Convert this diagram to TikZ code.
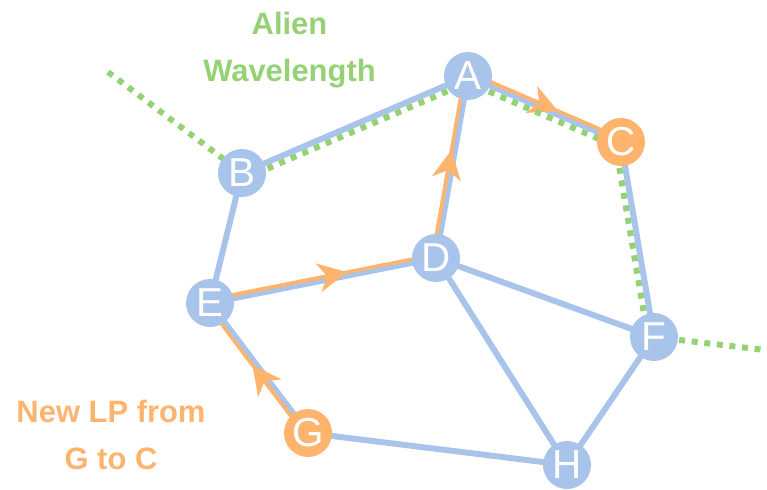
\documentclass[tikz,border=0pt]{standalone}
\usepackage{fontspec}
\setmainfont{Liberation Sans}
\usetikzlibrary{calc,arrows.meta,backgrounds}

\definecolor{linkblue}{HTML}{A9C4EB}
\definecolor{lporange}{HTML}{FFB46E}
\definecolor{aliengreen}{HTML}{95D275}

\tikzset{
  router/.style={circle, fill=linkblue, inner sep=0pt, minimum size=0.96cm,
    text=white, font=\fontsize{23}{23}\selectfont},
  lpend/.style={router, fill=lporange},
  fibre/.style={draw=linkblue, line width=3.4pt},
  alien/.style={draw=aliengreen, line width=3.4pt, dash pattern=on 3.4pt off 3.8pt},
  lightpath/.style={draw=lporange, line width=2pt},
  lptip/.style={lightpath, -{Stealth[length=0.58cm,width=0.58cm,inset=0.17cm]}},
  note/.style={align=center, font=\fontsize{17.6}{27}\selectfont\bfseries},
}

\begin{document}
\begin{tikzpicture}

\useasboundingbox (0,0) rectangle (15.34,9.78);

% routers
\node[router] (A) at (9.36,8.26) {A};
\node[router] (B) at (4.84,6.32) {B};
\node[lpend]  (C) at (12.42,6.94) {C};
\node[router] (D) at (8.72,4.62) {D};
\node[router] (E) at (4.20,3.72) {E};
\node[router] (F) at (13.08,3.04) {F};
\node[lpend]  (G) at (6.16,1.12) {G};
\node[router] (H) at (11.34,0.48) {H};

\coordinate (alienIn) at (2.16,8.34);
\coordinate (alienOut) at (15.30,2.78);

\begin{pgfonlayer}{background}
% fibre links
\draw[fibre] (A.center) -- (B.center);
\draw[fibre] (A.center) -- (C.center);
\draw[fibre] (A.center) -- (D.center);
\draw[fibre] (B.center) -- (E.center);
\draw[fibre] (E.center) -- (D.center);
\draw[fibre] (E.center) -- (G.center);
\draw[fibre] (D.center) -- (F.center);
\draw[fibre] (D.center) -- (H.center);
\draw[fibre] (C.center) -- (F.center);
\draw[fibre] (F.center) -- (H.center);
\draw[fibre] (G.center) -- (H.center);

% new lightpath G -> C
\draw[lightpath] ($(G.center)!0.07cm!90:(E.center)$) coordinate (ge1) -- ($(E.center)!0.07cm!-90:(G.center)$) coordinate (ge2);
\draw[lightpath] ($(E.center)!0.07cm!90:(D.center)$) coordinate (ed1) -- ($(D.center)!0.07cm!-90:(E.center)$) coordinate (ed2);
\draw[lightpath] ($(D.center)!0.07cm!90:(A.center)$) coordinate (da1) -- ($(A.center)!0.07cm!-90:(D.center)$) coordinate (da2);
\draw[lightpath] ($(A.center)!0.07cm!90:(C.center)$) coordinate (ac1) -- ($(C.center)!0.07cm!-90:(A.center)$) coordinate (ac2);
\draw[lptip] (ge1) -- ($(ge1)!0.54!(ge2)$);
\draw[lptip] (ed1) -- ($(ed1)!0.61!(ed2)$);
\draw[lptip] (da1) -- ($(da1)!0.59!(da2)$);
\draw[lptip] (ac1) -- ($(ac1)!0.58!(ac2)$);

% alien wavelength
\draw[alien] (alienIn) -- (B.center);
\draw[alien] ($(B.center)!0.12cm!-90:(A.center)$) -- ($(A.center)!0.12cm!90:(B.center)$);
\draw[alien] ($(A.center)!0.12cm!-90:(C.center)$) -- ($(C.center)!0.12cm!90:(A.center)$);
\draw[alien] ($(C.center)!0.12cm!-90:(F.center)$) -- ($(F.center)!0.12cm!90:(C.center)$);
\draw[alien] (F.center) -- (alienOut);
\end{pgfonlayer}

% labels
\node[note, text=aliengreen] (alienLabel) at (5.79,8.78) {Alien\\Wavelength};
\node[note, text=lporange] (lpLabel) at (2.22,1.08) {New LP from\\G to C};

\end{tikzpicture}
\end{document}
